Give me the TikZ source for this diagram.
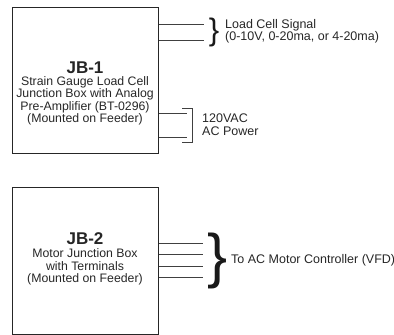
\documentclass[tikz,border=0pt]{standalone}
\usepackage{fontspec}
\setmainfont{Liberation Sans}
\usetikzlibrary{positioning,calc}

\begin{document}
\begin{tikzpicture}[
        x=1pt, y=-1pt,
        jbox/.style={rectangle, draw=black!85, line width=1pt, minimum width=146pt, minimum height=146pt, inner sep=0pt},
        jbtitle/.style={font=\fontsize{17}{18}\selectfont\bfseries, text=black!85, inner sep=0pt},
        jbtext/.style={align=center, font=\fontsize{12.3}{12.4}\selectfont, text=black!85, inner sep=0pt},
        sigtext/.style={align=left, anchor=west, font=\fontsize{12.5}{12.4}\selectfont, text=black!85, inner sep=0pt},
        bracechar/.style={inner sep=0pt, text=black!90},
        wire/.style={draw=black!75, line width=0.8pt}
    ]
        \useasboundingbox (0,0) rectangle (394,335);

        % Junction box 1
        \node[jbox] (jb1) at (85,80) {};
        \node[jbtitle] (jb1title) at (85,67.5) {JB-1};
        \node[jbtext] (jb1text) at (85,101) {Strain Gauge Load Cell\\Junction Box with Analog\\Pre-Amplifier (BT-0296)\\(Mounted on Feeder)};

        % Junction box 2
        \node[jbox, minimum height=147pt] (jb2) at (85,260.5) {};
        \node[jbtitle] (jb2title) at (85,239) {JB-2};
        \node[jbtext] (jb2text) at (85,267) {Motor Junction Box\\with Terminals\\(Mounted on Feeder)};

        % Wire ends
        \coordinate (sigA) at (204,24);
        \coordinate (sigB) at (204,40);
        \coordinate (pwrA) at (187,113);
        \coordinate (pwrB) at (187,137);
        \coordinate (brkTop) at (182,108);
        \coordinate (brkBot) at (182,142);
        \coordinate (motA) at (203,243);
        \coordinate (motB) at (203,254);
        \coordinate (motC) at (203,266);
        \coordinate (motD) at (203,277);

        % Braces and labels
        \node[bracechar, font=\fontsize{31}{31}\selectfont] (sigbrace) at (214,32) {\}};
        \node[sigtext] (siglabel) at (225,31) {Load Cell Signal\\(0-10V, 0-20ma, or 4-20ma)};
        \node[sigtext] (pwrlabel) at (202,124.5) {120VAC\\AC Power};
        \node[bracechar, font=\fontsize{60}{60}\selectfont] (motbrace) at (218,261) {\}};
        \node[sigtext] (motlabel) at (231,260) {To AC Motor Controller (VFD)};

        % Connections
        \draw[wire] (jb1.east |- sigA) -- (sigA);
        \draw[wire] (jb1.east |- sigB) -- (sigB);
        \draw[wire] (jb1.east |- pwrA) -- (pwrA);
        \draw[wire] (jb1.east |- pwrB) -- (pwrB);
        \draw[wire] (brkTop) -| ($(brkBot)+(10,0)$) -- (brkBot);
        \foreach \m in {motA,motB,motC,motD}
            \draw[wire] (jb2.east |- \m) -- (\m);
    \end{tikzpicture}
\end{document}
